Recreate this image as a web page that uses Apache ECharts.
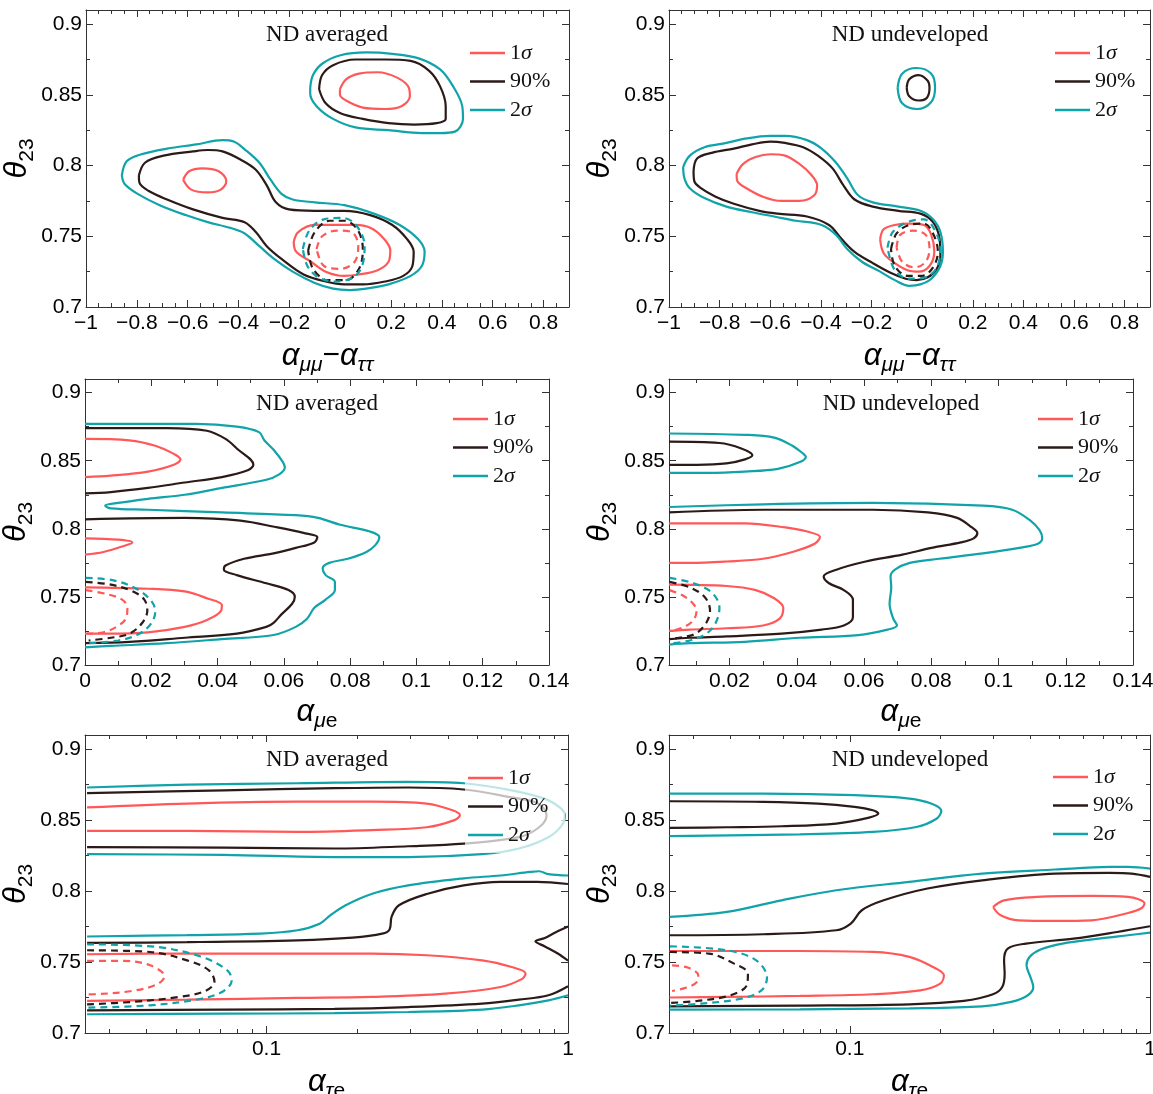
<!DOCTYPE html>
<html>
<head>
<meta charset="utf-8">
<script src="https://cdn.jsdelivr.net/npm/echarts@6/dist/echarts.min.js"></script>
<style>
html,body{margin:0;padding:0;background:#fff}
#main{width:1153px;height:1094px}
</style>
</head>
<body>
<div id="main"></div>
<script>
// ---- data: contours ----
// panel 1: alpha_mumu - alpha_tautau, ND averaged
var p1RedUp = [[-0.001,0.854],[0.023,0.861],[0.074,0.865],[0.147,0.866],[0.226,0.862],[0.270,0.855],[0.274,0.849],[0.241,0.842],[0.176,0.840],[0.089,0.841],[0.023,0.846],[-0.001,0.850],[-0.001,0.854]];
var p1RedLeft = [[-0.618,0.790],[-0.594,0.796],[-0.543,0.798],[-0.478,0.796],[-0.448,0.789],[-0.470,0.783],[-0.521,0.781],[-0.586,0.783],[-0.618,0.790]];
var p1RedLow = [[-0.183,0.746],[-0.165,0.753],[-0.100,0.758],[-0.028,0.758],[0.060,0.758],[0.118,0.756],[0.168,0.749],[0.197,0.740],[0.190,0.732],[0.147,0.726],[0.074,0.723],[0.016,0.722],[-0.057,0.725],[-0.115,0.732],[-0.173,0.739],[-0.183,0.746]];
var p1BlackUp = [[-0.083,0.854],[-0.071,0.864],[-0.028,0.871],[0.060,0.875],[0.176,0.875],[0.277,0.874],[0.350,0.867],[0.393,0.856],[0.415,0.842],[0.415,0.833],[0.379,0.830],[0.292,0.829],[0.190,0.830],[0.089,0.833],[0.001,0.837],[-0.057,0.844],[-0.083,0.854]];
var p1BlackLow = [[-0.792,0.793],[-0.768,0.802],[-0.695,0.807],[-0.579,0.810],[-0.521,0.811],[-0.463,0.810],[-0.390,0.804],[-0.332,0.797],[-0.289,0.786],[-0.253,0.774],[-0.202,0.769],[-0.100,0.768],[0.016,0.768],[0.118,0.765],[0.205,0.758],[0.263,0.748],[0.289,0.739],[0.284,0.729],[0.248,0.722],[0.176,0.718],[0.089,0.716],[0.016,0.716],[-0.057,0.718],[-0.144,0.723],[-0.231,0.734],[-0.289,0.743],[-0.332,0.753],[-0.376,0.760],[-0.463,0.763],[-0.579,0.769],[-0.681,0.776],[-0.753,0.782],[-0.790,0.788],[-0.792,0.793]];
var p1TealUp = [[-0.118,0.855],[-0.107,0.864],[-0.071,0.872],[0.001,0.878],[0.103,0.880],[0.205,0.879],[0.306,0.876],[0.393,0.868],[0.444,0.856],[0.480,0.842],[0.483,0.833],[0.451,0.824],[0.393,0.823],[0.321,0.823],[0.190,0.825],[0.060,0.827],[-0.028,0.833],[-0.093,0.842],[-0.118,0.851],[-0.118,0.855]];
var p1TealLow = [[-0.859,0.793],[-0.840,0.803],[-0.782,0.808],[-0.681,0.812],[-0.565,0.815],[-0.463,0.818],[-0.419,0.817],[-0.376,0.8115],[-0.318,0.802],[-0.274,0.790],[-0.231,0.780],[-0.187,0.776],[-0.100,0.774],[0.016,0.772],[0.132,0.766],[0.234,0.758],[0.306,0.748],[0.332,0.739],[0.321,0.729],[0.277,0.722],[0.190,0.716],[0.103,0.713],[0.038,0.712],[-0.028,0.713],[-0.100,0.717],[-0.187,0.725],[-0.260,0.734],[-0.318,0.743],[-0.376,0.752],[-0.434,0.756],[-0.521,0.760],[-0.608,0.765],[-0.710,0.772],[-0.797,0.780],[-0.848,0.787],[-0.859,0.793]];
var p1RedDash = [[-0.093,0.741],[-0.071,0.750],[-0.013,0.754],[0.045,0.753],[0.071,0.743],[0.057,0.732],[0.001,0.727],[-0.064,0.729],[-0.093,0.741]];
var p1BlackDash = [[-0.126,0.740],[-0.100,0.753],[-0.042,0.761],[0.016,0.761],[0.067,0.755],[0.089,0.741],[0.074,0.727],[0.023,0.719],[-0.049,0.719],[-0.107,0.727],[-0.126,0.740]];
var p1TealDash = [[-0.147,0.741],[-0.122,0.754],[-0.064,0.762],[0.009,0.763],[0.062,0.758],[0.096,0.743],[0.086,0.729],[0.052,0.721],[-0.020,0.718],[-0.086,0.721],[-0.129,0.729],[-0.147,0.741]];

// panel 2: alpha_mumu - alpha_tautau, ND undeveloped
var p2RedMid = [[-0.733,0.794],[-0.708,0.801],[-0.658,0.806],[-0.600,0.808],[-0.542,0.807],[-0.484,0.801],[-0.441,0.794],[-0.415,0.786],[-0.426,0.779],[-0.484,0.775],[-0.556,0.775],[-0.629,0.778],[-0.694,0.784],[-0.730,0.789],[-0.733,0.794]];
var p2RedLow = [[-0.166,0.748],[-0.152,0.755],[-0.108,0.758],[-0.051,0.759],[0.007,0.758],[0.036,0.751],[0.048,0.739],[0.029,0.729],[-0.014,0.725],[-0.058,0.726],[-0.108,0.731],[-0.152,0.738],[-0.166,0.748]];
var p2BlackUp = [[-0.061,0.855],[-0.051,0.861],[-0.014,0.864],[0.022,0.860],[0.029,0.855],[0.019,0.848],[-0.014,0.846],[-0.051,0.849],[-0.061,0.855]];
var p2BlackLow = [[-0.903,0.796],[-0.889,0.805],[-0.831,0.809],[-0.744,0.812],[-0.672,0.815],[-0.600,0.817],[-0.542,0.816],[-0.470,0.813],[-0.412,0.807],[-0.354,0.798],[-0.311,0.786],[-0.267,0.776],[-0.195,0.771],[-0.094,0.768],[-0.007,0.766],[0.043,0.760],[0.069,0.748],[0.072,0.736],[0.058,0.727],[0.022,0.721],[-0.022,0.719],[-0.065,0.720],[-0.123,0.724],[-0.195,0.731],[-0.267,0.739],[-0.318,0.748],[-0.368,0.758],[-0.455,0.764],[-0.571,0.766],[-0.643,0.768],[-0.744,0.773],[-0.816,0.778],[-0.874,0.784],[-0.900,0.789],[-0.903,0.796]];
var p2TealUp = [[-0.097,0.855],[-0.079,0.865],[-0.022,0.869],[0.036,0.865],[0.051,0.855],[0.036,0.845],[-0.019,0.840],[-0.079,0.844],[-0.097,0.855]];
var p2TealLow = [[-0.944,0.799],[-0.918,0.807],[-0.860,0.813],[-0.773,0.816],[-0.701,0.819],[-0.600,0.821],[-0.542,0.821],[-0.455,0.818],[-0.397,0.812],[-0.340,0.802],[-0.296,0.791],[-0.253,0.779],[-0.195,0.774],[-0.094,0.771],[-0.007,0.768],[0.043,0.762],[0.072,0.753],[0.082,0.739],[0.072,0.729],[0.036,0.720],[-0.007,0.716],[-0.051,0.715],[-0.108,0.719],[-0.166,0.725],[-0.238,0.732],[-0.296,0.741],[-0.340,0.751],[-0.397,0.758],[-0.499,0.761],[-0.585,0.764],[-0.672,0.767],[-0.773,0.771],[-0.860,0.777],[-0.918,0.784],[-0.939,0.791],[-0.944,0.799]];
var p2RedDash = [[-0.101,0.742],[-0.087,0.751],[-0.036,0.754],[0.014,0.751],[0.029,0.741],[0.014,0.732],[-0.029,0.728],[-0.079,0.732],[-0.101,0.742]];
var p2BlackDash = [[-0.123,0.741],[-0.101,0.752],[-0.051,0.758],[0.007,0.759],[0.043,0.752],[0.062,0.739],[0.043,0.728],[0.000,0.722],[-0.058,0.722],[-0.108,0.729],[-0.123,0.741]];
var p2TealDash = [[-0.137,0.742],[-0.116,0.753],[-0.058,0.760],[0.007,0.762],[0.048,0.755],[0.072,0.741],[0.058,0.728],[0.014,0.721],[-0.051,0.720],[-0.108,0.726],[-0.137,0.742]];

// panel 3: alpha_mue, ND averaged
var p3RedUp = [[0,0.866],[0.0134,0.865],[0.0212,0.861],[0.0268,0.855],[0.0288,0.851],[0.0268,0.847],[0.019,0.842],[0.0078,0.839],[0,0.838]];
var p3RedMid = [[0,0.793],[0.0100,0.792],[0.0143,0.790],[0.0112,0.787],[0.0056,0.783],[0,0.781]];
var p3RedLow = [[0,0.757],[0.019,0.756],[0.0301,0.754],[0.0368,0.749],[0.0413,0.744],[0.0411,0.740],[0.0368,0.733],[0.0301,0.728],[0.019,0.724],[0.0078,0.723],[0,0.723]];
var p3BlackUp = [[0,0.874],[0.0246,0.874],[0.0368,0.872],[0.0424,0.866],[0.0458,0.859],[0.0508,0.847],[0.0491,0.843],[0.0413,0.838],[0.0301,0.834],[0.019,0.830],[0.0078,0.827],[0,0.826]];
var p3BlackLow = [[0,0.807],[0.0301,0.808],[0.0469,0.806],[0.0581,0.801],[0.0659,0.797],[0.0701,0.794],[0.0692,0.790],[0.0636,0.786],[0.0569,0.782],[0.0480,0.778],[0.0424,0.773],[0.0419,0.770],[0.0458,0.766],[0.0547,0.760],[0.0614,0.755],[0.0633,0.750],[0.0625,0.745],[0.0592,0.737],[0.0569,0.731],[0.0547,0.728],[0.0458,0.723],[0.0301,0.720],[0.0134,0.717],[0,0.716]];
var p3Teal = [[0,0.877],[0.019,0.877],[0.0335,0.877],[0.0458,0.875],[0.0525,0.871],[0.0541,0.865],[0.0569,0.858],[0.0597,0.849],[0.0603,0.845],[0.0586,0.840],[0.0547,0.836],[0.0413,0.830],[0.0301,0.825],[0.019,0.822],[0.0100,0.819],[0.0061,0.817],[0.0078,0.815],[0.019,0.814],[0.0413,0.812],[0.0636,0.810],[0.0703,0.808],[0.0770,0.803],[0.0860,0.798],[0.0888,0.794],[0.0876,0.788],[0.0849,0.783],[0.0793,0.778],[0.0737,0.775],[0.0717,0.771],[0.0726,0.766],[0.0754,0.761],[0.0754,0.755],[0.0726,0.748],[0.0692,0.742],[0.0670,0.734],[0.0636,0.728],[0.0569,0.722],[0.0413,0.719],[0.0246,0.716],[0.0078,0.714],[0,0.713]];
var p3RedDash = [[0.0002,0.755],[0.0067,0.752],[0.0112,0.748],[0.0128,0.742],[0.0123,0.734],[0.0095,0.728],[0.0056,0.724],[0.0006,0.723]];
var p3BlackDash = [[0.0002,0.761],[0.0078,0.759],[0.0145,0.754],[0.0179,0.748],[0.0188,0.740],[0.0173,0.731],[0.0134,0.723],[0.0078,0.720],[0.0011,0.718]];
var p3TealDash = [[0.0002,0.764],[0.0089,0.762],[0.0162,0.755],[0.0203,0.746],[0.0212,0.739],[0.0195,0.729],[0.0156,0.722],[0.0100,0.718],[0.0011,0.716]];

// panel 4: alpha_mue, ND undeveloped
var p4RedUp = [[0.002,0.804],[0.0246,0.804],[0.0366,0.801],[0.0431,0.798],[0.0469,0.794],[0.0453,0.789],[0.0387,0.783],[0.0300,0.778],[0.0191,0.776],[0.0082,0.775],[0.002,0.775]];
var p4RedLow = [[0.002,0.759],[0.0191,0.758],[0.0278,0.755],[0.0333,0.749],[0.0360,0.742],[0.0349,0.734],[0.0300,0.729],[0.0191,0.727],[0.0082,0.726],[0.002,0.725]];
var p4BlackUp = [[0.002,0.864],[0.0170,0.863],[0.0235,0.859],[0.0268,0.854],[0.0246,0.851],[0.0191,0.848],[0.0104,0.847],[0.002,0.847]];
var p4BlackLow = [[0.002,0.812],[0.0300,0.814],[0.0627,0.814],[0.0790,0.812],[0.0877,0.808],[0.0921,0.801],[0.0937,0.797],[0.0926,0.793],[0.0888,0.790],[0.0801,0.786],[0.0714,0.781],[0.0605,0.776],[0.0518,0.770],[0.0480,0.765],[0.0496,0.760],[0.0540,0.755],[0.0567,0.748],[0.0567,0.735],[0.0540,0.729],[0.0474,0.726],[0.0355,0.723],[0.0191,0.721],[0.0082,0.720],[0.002,0.719]];
var p4TealUp = [[0.002,0.870],[0.0246,0.869],[0.0333,0.867],[0.0387,0.861],[0.0420,0.855],[0.0427,0.853],[0.0409,0.849],[0.0344,0.844],[0.0246,0.842],[0.0137,0.841],[0.002,0.841]];
var p4TealLow = [[0.002,0.816],[0.0300,0.818],[0.0627,0.819],[0.0954,0.817],[0.1041,0.814],[0.1095,0.806],[0.1122,0.799],[0.1130,0.793],[0.1117,0.789],[0.1062,0.786],[0.0954,0.782],[0.0823,0.778],[0.0736,0.775],[0.0692,0.770],[0.0679,0.765],[0.0681,0.757],[0.0676,0.745],[0.0687,0.734],[0.0698,0.729],[0.0670,0.726],[0.0583,0.722],[0.0409,0.720],[0.0246,0.717],[0.0082,0.716],[0.002,0.715]];
var p4RedDash = [[0.0022,0.755],[0.0061,0.751],[0.0088,0.746],[0.0102,0.740],[0.0093,0.733],[0.0066,0.728],[0.0028,0.725]];
var p4BlackDash = [[0.0022,0.761],[0.0082,0.757],[0.0126,0.750],[0.0142,0.740],[0.0131,0.731],[0.0099,0.723],[0.0050,0.720],[0.0022,0.719]];
var p4TealDash = [[0.0022,0.764],[0.0093,0.760],[0.0148,0.753],[0.0170,0.742],[0.0159,0.731],[0.0131,0.723],[0.0082,0.718],[0.0028,0.716]];

// panel 5: alpha_taue (log), ND averaged
var p5RedUp = [[0.0254,0.859],[0.0545,0.8617],[0.1267,0.863],[0.223,0.863],[0.340,0.8617],[0.414,0.857],[0.438,0.8535],[0.420,0.850],[0.340,0.845],[0.223,0.843],[0.1267,0.8417],[0.0545,0.8424],[0.0254,0.8424]];
var p5RedLow = [[0.0254,0.7555],[0.0545,0.756],[0.1267,0.756],[0.223,0.756],[0.340,0.7548],[0.519,0.7512],[0.650,0.7465],[0.723,0.742],[0.707,0.7383],[0.597,0.7324],[0.391,0.7277],[0.223,0.7254],[0.1267,0.7247],[0.0545,0.7235],[0.0254,0.7226]];
var p5BlackUp = [[0.0254,0.869],[0.0721,0.871],[0.168,0.8725],[0.295,0.873],[0.451,0.8716],[0.650,0.866],[0.791,0.862],[0.849,0.8535],[0.802,0.845],[0.687,0.838],[0.451,0.8335],[0.295,0.8316],[0.168,0.830],[0.0721,0.8307],[0.0254,0.831]];
var p5BlackMid = [[0.0254,0.7635],[0.0545,0.764],[0.1267,0.7653],[0.193,0.7672],[0.242,0.770],[0.256,0.773],[0.260,0.782],[0.275,0.790],[0.340,0.798],[0.451,0.804],[0.597,0.8065],[0.791,0.8065],[1,0.805]];
var p5BlackRight = [[1,0.775],[0.911,0.771],[0.838,0.767],[0.780,0.7646],[0.838,0.761],[0.925,0.756],[1,0.751]];
var p5BlackLow = [[0.0254,0.716],[0.0721,0.7165],[0.168,0.717],[0.295,0.7183],[0.519,0.7207],[0.687,0.7235],[0.861,0.7266],[1,0.733]];
var p5TealUp = [[0.0254,0.873],[0.0545,0.875],[0.1267,0.876],[0.295,0.877],[0.451,0.876],[0.650,0.871],[0.838,0.865],[0.951,0.858],[0.977,0.853],[0.951,0.846],[0.861,0.838],[0.687,0.830],[0.519,0.826],[0.295,0.824],[0.168,0.824],[0.0721,0.8255],[0.0254,0.826]];
var p5TealMid = [[0.0254,0.768],[0.0545,0.769],[0.0955,0.770],[0.1267,0.7724],[0.150,0.777],[0.163,0.783],[0.183,0.790],[0.223,0.798],[0.295,0.804],[0.451,0.809],[0.597,0.811],[0.748,0.8135],[0.802,0.814],[0.861,0.812],[1,0.811]];
var p5TealLow = [[0.0254,0.7132],[0.0721,0.7136],[0.168,0.714],[0.295,0.7148],[0.519,0.7165],[0.687,0.7195],[0.861,0.723],[1,0.7266]];
var p5RedDash = [[0.0254,0.7508],[0.0337,0.7508],[0.0411,0.7477],[0.0459,0.740],[0.0434,0.7343],[0.0357,0.7296],[0.0269,0.7273],[0.0254,0.7272]];
var p5BlackDash = [[0.0254,0.7583],[0.0411,0.7571],[0.0545,0.7512],[0.0644,0.7442],[0.0672,0.736],[0.0626,0.7296],[0.0514,0.7254],[0.0357,0.7219],[0.0254,0.7202]];
var p5TealDash = [[0.0254,0.7625],[0.0434,0.7606],[0.0610,0.7536],[0.0741,0.7442],[0.0767,0.7371],[0.0721,0.7296],[0.0610,0.7242],[0.0411,0.7195],[0.0254,0.7179]];

// panel 6: alpha_taue (log), ND undeveloped
var p6RedRight = [[0.300,0.7888],[0.3266,0.7935],[0.420,0.7959],[0.639,0.7966],[0.845,0.7959],[0.959,0.7912],[0.933,0.7877],[0.845,0.7846],[0.639,0.7794],[0.483,0.779],[0.365,0.7794],[0.318,0.783],[0.300,0.7888]];
var p6RedLow = [[0.0251,0.7578],[0.0682,0.7578],[0.1194,0.7571],[0.158,0.7536],[0.1893,0.7465],[0.2058,0.7407],[0.2001,0.7348],[0.1716,0.730],[0.1194,0.7273],[0.0682,0.7261],[0.039,0.7254],[0.0251,0.725]];
var p6BlackUp = [[0.0251,0.8633],[0.0515,0.8629],[0.0784,0.8617],[0.1037,0.8594],[0.1194,0.857],[0.1245,0.8546],[0.1160,0.8518],[0.0901,0.8476],[0.0593,0.8457],[0.039,0.845],[0.0251,0.8445]];
var p6BlackMid = [[0.0251,0.7689],[0.0515,0.7696],[0.0902,0.7724],[0.1008,0.7771],[0.1097,0.7865],[0.1297,0.7935],[0.1815,0.8018],[0.276,0.8076],[0.483,0.8123],[0.735,0.8128],[0.869,0.8123],[1,0.810]];
var p6BlackLow = [[0.0251,0.7188],[0.0682,0.7193],[0.158,0.7202],[0.240,0.7226],[0.300,0.7273],[0.322,0.7324],[0.328,0.7418],[0.3266,0.7512],[0.336,0.7595],[0.386,0.763],[0.556,0.7665],[0.777,0.7712],[1,0.7752]];
var p6TealUp = [[0.0251,0.8687],[0.0515,0.8687],[0.1037,0.8676],[0.158,0.8652],[0.1866,0.8617],[0.2018,0.8565],[0.1945,0.851],[0.1667,0.8452],[0.1194,0.8417],[0.0682,0.840],[0.0251,0.8387]];
var p6TealMid = [[0.0251,0.7818],[0.039,0.7853],[0.0593,0.7935],[0.0902,0.8006],[0.158,0.8065],[0.276,0.8123],[0.483,0.8152],[0.735,0.817],[0.845,0.817],[1,0.8159]];
var p6TealLow = [[0.0251,0.7165],[0.0682,0.7167],[0.158,0.7174],[0.276,0.7188],[0.345,0.7219],[0.392,0.7266],[0.4085,0.7324],[0.3995,0.7395],[0.388,0.7477],[0.397,0.7536],[0.432,0.7588],[0.511,0.763],[0.676,0.7665],[0.845,0.7689],[1,0.7707]];
var p6RedDash = [[0.0256,0.7477],[0.0290,0.746],[0.0313,0.7407],[0.0310,0.736],[0.0286,0.732],[0.0256,0.7296]];
var p6BlackDash = [[0.0252,0.7571],[0.0339,0.756],[0.0412,0.7489],[0.0458,0.7418],[0.0454,0.7336],[0.0401,0.7266],[0.0311,0.7226],[0.0252,0.7212]];
var p6TealDash = [[0.0252,0.7611],[0.039,0.7583],[0.0488,0.7512],[0.053,0.739],[0.0508,0.730],[0.0435,0.7242],[0.032,0.7207],[0.0252,0.7193]];

// ticks and labels
var levelNames = ['1σ', '90%', '2σ'];
var panelTitles = ['ND averaged', 'ND undeveloped'];
var mueTicks = [0.02, 0.04, 0.06, 0.08, 0.1, 0.12, 0.14];
var mueMinor = [0.01, 0.03, 0.05, 0.07, 0.09, 0.11, 0.13];
var logMinor = [0.03, 0.04, 0.05, 0.06, 0.07, 0.08, 0.09, 0.2, 0.3, 0.4, 0.5, 0.6, 0.7, 0.8, 0.9];

var RED = '#ff5858', BLACK = '#2b1a17', TEAL = '#10a3a9', FRAME = '#333';

var panels = [
  {grid: {left: 86, top: 10, width: 483, height: 297}, title: 0, tx: 327, ty: 23, lx: 470, ly: 41,
   x: {type: 'value', min: -1, max: 0.9, interval: 0.2, minor: 4, showMax: false}, xname: 'mt', ngap: 34,
   red: [p1RedUp, p1RedLeft, p1RedLow], black: [p1BlackUp, p1BlackLow], teal: [p1TealUp, p1TealLow],
   dash: [p1RedDash, p1BlackDash, p1TealDash]},
  {grid: {left: 669, top: 10, width: 481, height: 297}, title: 1, tx: 910, ty: 23, lx: 1055, ly: 41,
   x: {type: 'value', min: -1, max: 0.9, interval: 0.2, minor: 4, showMax: false}, xname: 'mt', ngap: 34,
   red: [p2RedMid, p2RedLow], black: [p2BlackUp, p2BlackLow], teal: [p2TealUp, p2TealLow],
   dash: [p2RedDash, p2BlackDash, p2TealDash]},
  {grid: {left: 85, top: 379, width: 464, height: 286}, title: 0, tx: 317, ty: 392, lx: 453, ly: 407,
   x: {type: 'value', min: 0, max: 0.14, interval: 0.02, minor: 2, showMax: true}, xname: 'me', ngap: 32,
   red: [p3RedUp, p3RedMid, p3RedLow], black: [p3BlackUp, p3BlackLow], teal: [p3Teal],
   dash: [p3RedDash, p3BlackDash, p3TealDash]},
  {grid: {left: 669, top: 379, width: 464, height: 286}, title: 1, tx: 901, ty: 392, lx: 1038, ly: 407,
   x: {type: 'custom', min: 0.002, max: 0.14}, xname: 'me', ngap: 32,
   red: [p4RedUp, p4RedLow], black: [p4BlackUp, p4BlackLow], teal: [p4TealUp, p4TealLow],
   dash: [p4RedDash, p4BlackDash, p4TealDash]},
  {grid: {left: 85, top: 735, width: 483, height: 298}, title: 0, tx: 327, ty: 748, lx: 465, ly: 766, bg: true,
   x: {type: 'log', min: 0.025, max: 1}, xname: 'te', ngap: 34,
   red: [p5RedUp, p5RedLow], black: [p5BlackUp, p5BlackMid, p5BlackRight, p5BlackLow], teal: [p5TealUp, p5TealMid, p5TealLow],
   dash: [p5RedDash, p5BlackDash, p5TealDash]},
  {grid: {left: 669, top: 735, width: 481, height: 298}, title: 1, tx: 910, ty: 748, lx: 1053, ly: 765,
   x: {type: 'log', min: 0.025, max: 1}, xname: 'te', ngap: 34,
   red: [p6RedRight, p6RedLow], black: [p6BlackUp, p6BlackMid, p6BlackLow], teal: [p6TealUp, p6TealMid, p6TealLow],
   dash: [p6RedDash, p6BlackDash, p6TealDash]}
];

var nameRich = {
  a: {fontFamily: 'Liberation Sans', fontStyle: 'italic', fontSize: 31, lineHeight: 30, verticalAlign: 'top', color: '#000'},
  s: {fontFamily: 'Liberation Sans', fontStyle: 'italic', fontSize: 21, lineHeight: 20, verticalAlign: 'top', padding: [14, 0, 0, 0], color: '#000'},
  n: {fontFamily: 'Liberation Sans', fontSize: 21, lineHeight: 20, verticalAlign: 'top', padding: [14, 0, 0, 0], color: '#000'},
  m: {fontFamily: 'Liberation Sans', fontSize: 30, lineHeight: 30, verticalAlign: 'top', color: '#000'}
};
var xNames = {
  mt: '{a|α}{s|μμ}{m|−}{a|α}{s|ττ}',
  me: '{a|α}{s|μ}{n|e}',
  te: '{a|α}{s|τ}{n|e}'
};

var tickFont = {fontFamily: 'Liberation Sans', fontSize: 21, color: '#000'};
function fmt(v) { return String(v).replace('-', '−'); }

var grids = [], xAxes = [], yAxes = [], series = [], legends = [], titles = [];

function baseAxis(gi, pos) {
  return {
    gridIndex: gi, position: pos,
    axisLine: {show: true, onZero: false, lineStyle: {color: FRAME, width: 1}},
    axisTick: {show: true, inside: true, length: 7, lineStyle: {color: FRAME}},
    splitLine: {show: false},
    axisLabel: {show: false},
    axisPointer: {show: false}
  };
}

function lineSeries(name, data, color, dashed, xi, yi) {
  return {
    name: name, type: 'line', data: data, xAxisIndex: xi, yAxisIndex: yi,
    smooth: 0.35, symbol: 'none', showSymbol: false, silent: true, animation: false,
    lineStyle: {color: color, width: 2.2, type: dashed ? [7, 5] : 'solid'},
    itemStyle: {color: color}, z: dashed ? 3 : 2
  };
}

panels.forEach(function (p, gi) {
  // keep the plot boxes where they are even if a name runs off the page
  grids.push(Object.assign({containLabel: false, outerBoundsMode: 'none'}, p.grid));
  var xi = xAxes.length;  // main bottom axis index
  var yi = yAxes.length;

  // x axes
  ['bottom', 'top'].forEach(function (pos) {
    var ax = baseAxis(gi, pos);
    ax.type = p.x.type === 'log' ? 'log' : 'value';
    ax.min = p.x.min; ax.max = p.x.max;
    if (p.x.type === 'value') {
      ax.interval = p.x.interval;
      ax.minorTick = {show: true, splitNumber: p.x.minor, length: 4, lineStyle: {color: FRAME}};
      ax.axisLabel = {show: pos === 'bottom', showMaxLabel: p.x.showMax, margin: 6, formatter: fmt};
    } else if (p.x.type === 'custom') {
      ax.axisTick.customValues = mueTicks;
      ax.axisLabel = {show: pos === 'bottom', customValues: mueTicks, margin: 6, formatter: fmt};
    } else {
      ax.logBase = 10;
      ax.axisLabel = {show: pos === 'bottom', showMinLabel: false, margin: 6};
    }
    Object.assign(ax.axisLabel, tickFont);
    if (pos === 'bottom') {
      ax.name = xNames[p.xname];
      ax.nameLocation = 'middle';
      ax.nameGap = p.ngap;
      ax.nameTextStyle = {rich: nameRich};
    }
    xAxes.push(ax);
  });
  // extra minor-tick axes for custom / log x
  if (p.x.type !== 'value') {
    ['bottom', 'top'].forEach(function (pos) {
      var ax = baseAxis(gi, pos);
      ax.type = p.x.type === 'log' ? 'log' : 'value';
      if (ax.type === 'log') ax.logBase = 10;
      ax.min = p.x.min; ax.max = p.x.max;
      ax.axisLine = {show: false};
      ax.axisTick = {show: true, inside: true, length: 4, lineStyle: {color: FRAME}, customValues: p.x.type === 'log' ? logMinor : mueMinor};
      xAxes.push(ax);
    });
  }

  // y axes
  ['left', 'right'].forEach(function (pos) {
    var ax = baseAxis(gi, pos);
    ax.type = 'value';
    ax.min = 0.7; ax.max = 0.91; ax.interval = 0.05;
    ax.minorTick = {show: true, splitNumber: 2, length: 4, lineStyle: {color: FRAME}};
    ax.axisLabel = Object.assign({show: pos === 'left', showMaxLabel: false, margin: 4}, tickFont);
    if (pos === 'left') {
      ax.name = '{a|θ}{n|23}';
      ax.nameLocation = 'middle';
      ax.nameGap = 47;
      ax.nameRotate = 90;
      ax.nameTextStyle = {rich: nameRich};
    }
    yAxes.push(ax);
  });

  // series: solid first so the legend takes their colour
  p.red.forEach(function (d) { series.push(lineSeries(levelNames[0], d, RED, false, xi, yi)); });
  p.black.forEach(function (d) { series.push(lineSeries(levelNames[1], d, BLACK, false, xi, yi)); });
  p.teal.forEach(function (d) { series.push(lineSeries(levelNames[2], d, TEAL, false, xi, yi)); });
  series.push(lineSeries(levelNames[0], p.dash[0], RED, true, xi, yi));
  series.push(lineSeries(levelNames[1], p.dash[1], BLACK, true, xi, yi));
  series.push(lineSeries(levelNames[2], p.dash[2], TEAL, true, xi, yi));

  titles.push({
    text: panelTitles[p.title], left: p.tx, top: p.ty, textAlign: 'center', padding: 0,
    textStyle: {fontFamily: 'Liberation Serif', fontSize: 23, fontWeight: 'normal', color: '#111'}
  });

  legends.push({
    data: levelNames, orient: 'vertical', left: p.lx, top: p.ly,
    itemWidth: 35, itemHeight: 2.5, itemGap: 4.5, icon: 'rect', selectedMode: false,
    padding: p.bg ? [0, 17, 6, 3] : 0,
    backgroundColor: p.bg ? 'rgba(255,255,255,0.72)' : 'transparent',
    formatter: function (n) { return n.replace('σ', '{i|σ}'); },
    textStyle: {
      fontFamily: 'Liberation Serif', fontSize: 22, lineHeight: 24, color: '#111',
      rich: {i: {fontFamily: 'Liberation Serif', fontStyle: 'italic', fontSize: 22, lineHeight: 24, color: '#111'}}
    }
  });
});

var myChart = echarts.init(document.getElementById('main'), null, {renderer: 'canvas'});
myChart.setOption({
  backgroundColor: '#fff',
  animation: false,
  title: titles,
  legend: legends,
  grid: grids,
  xAxis: xAxes,
  yAxis: yAxes,
  series: series
});
</script>
</body>
</html>
